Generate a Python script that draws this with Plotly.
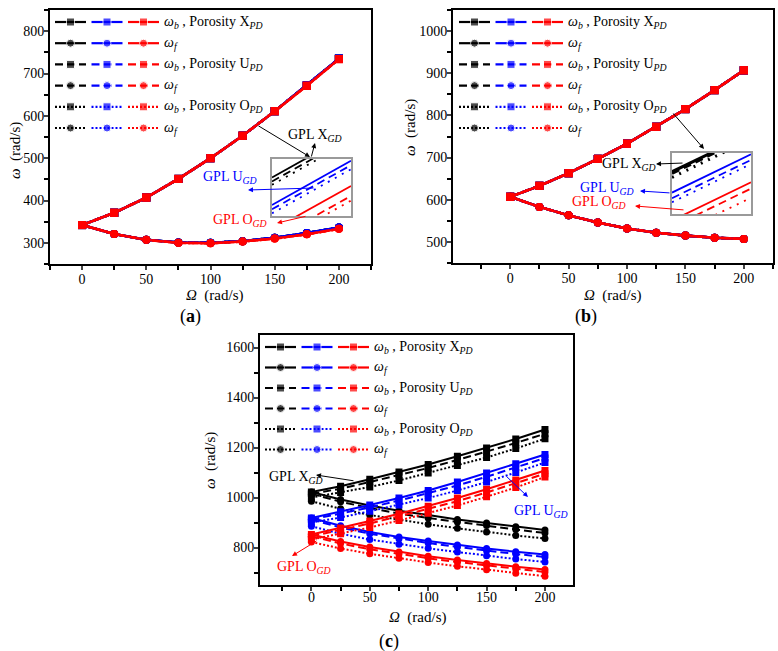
import plotly.graph_objects as go

W, H = 778, 651

omega = [0, 25, 50, 75, 100, 125, 150, 175, 200]

# (a) all nine configurations nearly coincide
a_wb_black = [342, 371, 407, 451, 500, 553, 611, 672, 735]
a_wb_blue = [342, 371, 407, 451, 500, 553, 611, 672, 735]
a_wb_red = [342, 371, 407, 451, 500, 553, 611, 671, 734]
a_wf_black = [342, 321, 307, 301, 300, 304, 312, 323, 336]
a_wf_blue = [342, 321, 307, 301, 300, 304, 312, 323, 336]
a_wf_red = [342, 321, 307, 300, 299, 303, 310, 320, 333]

# (b)
b_wb_black = [607, 633, 663, 697, 733, 773, 815, 860, 907]
b_wb_blue = [607, 633, 663, 697, 733, 773, 815, 860, 907]
b_wb_red = [607, 633, 663, 697, 733, 773, 815, 860, 907]
b_wf_black = [607, 583, 563, 546, 532, 522, 515, 510, 507]
b_wf_blue = [607, 583, 563, 546, 532, 522, 515, 510, 507]
b_wf_red = [607, 583, 563, 546, 532, 522, 515, 510, 507]

# (c) GPL X (black), U (blue), O (red); porosity X / U / O
c_wb_black_x = [1022, 1045, 1073, 1102, 1132, 1165, 1198, 1234, 1272]
c_wb_black_u = [1015, 1035, 1062, 1090, 1118, 1150, 1183, 1218, 1255]
c_wb_black_o = [1000, 1020, 1042, 1068, 1098, 1128, 1160, 1196, 1235]
c_wf_black_x = [1022, 992, 968, 947, 930, 912, 898, 883, 870]
c_wf_black_u = [1015, 983, 958, 936, 918, 902, 888, 872, 858]
c_wf_black_o = [985, 955, 930, 910, 893, 877, 862, 848, 836]
c_wb_blue_x = [918, 943, 970, 998, 1028, 1062, 1098, 1135, 1172]
c_wb_blue_u = [912, 935, 960, 988, 1017, 1048, 1083, 1120, 1158]
c_wb_blue_o = [900, 920, 945, 970, 998, 1028, 1062, 1100, 1140]
c_wf_blue_x = [918, 887, 862, 842, 826, 810, 796, 783, 772]
c_wf_blue_u = [912, 880, 855, 835, 818, 802, 787, 774, 762]
c_wf_blue_o = [885, 855, 832, 813, 797, 782, 767, 754, 742]
c_wb_red_x = [852, 878, 906, 935, 965, 998, 1033, 1070, 1108]
c_wb_red_u = [845, 870, 896, 925, 954, 985, 1020, 1057, 1095]
c_wb_red_o = [832, 855, 880, 908, 937, 968, 1003, 1040, 1082]
c_wf_red_x = [852, 824, 802, 782, 765, 750, 736, 723, 712]
c_wf_red_u = [845, 816, 793, 774, 757, 742, 728, 714, 702]
c_wf_red_o = [822, 796, 775, 757, 740, 725, 711, 697, 685]

# zoomed insets: each line as an offset (box units) with a common slope
ins_a_slope = 0.774
ins_a_black = [0.676, 0.606, 0.547]
ins_a_blue = [0.194, 0.118, 0.047]
ins_a_red = [-0.247, -0.422, -0.504]
ins_b_slope = 0.627
ins_b_black = [0.692, 0.665, 0.60]
ins_b_blue = [0.351, 0.259, 0.192]
ins_b_red = [-0.107, -0.211, -0.36]

COLORS = {"black": "#000000", "blue": "#0000ff", "red": "#ff0000"}
DASH = ["solid", "8px,4px", "2px,2px"]
INSET_DASH = ["solid", "8px,5px", "2px,6px"]
FONT = "Liberation Serif"

fig = go.Figure()


def px(x):
    return x / W


def py(y):
    return 1 - y / H


frames = {"": (50, 10, 371, 264), "2": (453, 10, 773, 263), "3": (260, 335, 573, 585)}
xranges = {"": [-25, 225], "2": [-49, 225], "3": [-44, 224]}
yranges = {"": [250, 850], "2": [450, 1050], "3": [650, 1650]}
ydticks = {"": (100, 50), "2": (100, 50), "3": (200, 100)}
standoff = {"": -3, "2": -3, "3": -6}

layout = dict(
    width=W, height=H, margin=dict(l=0, r=0, t=0, b=0),
    paper_bgcolor="white", plot_bgcolor="rgba(0,0,0,0)",
    showlegend=False, font=dict(family=FONT, size=14, color="black"),
)

over = {"": "6", "2": "7", "3": "8"}
for k, (x0, y0, x1, y1) in frames.items():
    common = dict(showgrid=False, zeroline=False, tickfont=dict(family=FONT, size=14))
    layout["xaxis" + k] = dict(
        common, domain=[px(x0), px(x1)], range=xranges[k], anchor="y" + k,
        showline=True, linewidth=2, linecolor="black", mirror=True,
        ticks="outside", ticklen=4, tickwidth=1.5, tick0=0, dtick=50,
        ticklabelstandoff=standoff[k],
        minor=dict(dtick=25, ticks="outside", ticklen=4, tickwidth=1.5, tickcolor="black"),
    )
    layout["yaxis" + k] = dict(
        common, domain=[py(y1), py(y0)], range=yranges[k], anchor="x" + k,
        showline=True, linewidth=2, linecolor="black", mirror=True,
        ticks="outside", ticklen=4, tickwidth=1.5, tick0=0, dtick=ydticks[k][0],
        ticklabelstandoff=-3,
        minor=dict(dtick=ydticks[k][1], ticks="outside", ticklen=4, tickwidth=1.5, tickcolor="black"),
    )
    o = over[k]
    layout["xaxis" + o] = dict(
        overlaying="x" + k, side="top", anchor="y" + k, range=xranges[k],
        showgrid=False, zeroline=False, showticklabels=False, showline=False,
        ticks="inside", ticklen=4, tickwidth=1.5, tick0=0, dtick=50,
        minor=dict(dtick=25, ticks="inside", ticklen=4, tickwidth=1.5, tickcolor="black"),
    )
    layout["yaxis" + o] = dict(
        overlaying="y" + k, side="right", anchor="x" + k, range=yranges[k],
        showgrid=False, zeroline=False, showticklabels=False, showline=False,
        ticks="inside", ticklen=4, tickwidth=1.5, tick0=0, dtick=ydticks[k][0],
        minor=dict(dtick=ydticks[k][1], ticks="inside", ticklen=4, tickwidth=1.5, tickcolor="black"),
    )

# inset boxes
insets = {"4": (272, 159, 351, 216), "5": (672, 153, 751, 214)}
for k, (x0, y0, x1, y1) in insets.items():
    box = dict(showgrid=False, zeroline=False, showticklabels=False, ticks="",
               showline=True, mirror=True, linecolor="#9a9a9a", linewidth=1.5, range=[0, 1])
    layout["xaxis" + k] = dict(box, domain=[px(x0), px(x1)], anchor="y" + k)
    layout["yaxis" + k] = dict(box, domain=[py(y1), py(y0)], anchor="x" + k)

# pixel-unit axes for the hand-drawn legends
layout["xaxis9"] = dict(domain=[0, 1], range=[0, W], visible=False, anchor="y9")
layout["yaxis9"] = dict(domain=[0, 1], range=[H, 0], visible=False, anchor="x9")

fig.update_layout(**layout)


def add_curves(k, wb, wf, width, msize):
    for color in ["black", "blue", "red"]:
        for i in range(3):
            for vals, sym in [(wb[color][i], "square"), (wf[color][i], "circle")]:
                fig.add_trace(go.Scatter(
                    x=omega, y=vals, mode="lines+markers", xaxis="x" + k, yaxis="y" + k,
                    line=dict(color=COLORS[color], width=width, dash=DASH[i]),
                    marker=dict(symbol=sym, size=msize, color=COLORS[color]),
                ))


add_curves("",
           {"black": [a_wb_black] * 3, "blue": [a_wb_blue] * 3, "red": [a_wb_red] * 3},
           {"black": [a_wf_black] * 3, "blue": [a_wf_blue] * 3, "red": [a_wf_red] * 3}, 2.5, 8)
add_curves("2",
           {"black": [b_wb_black] * 3, "blue": [b_wb_blue] * 3, "red": [b_wb_red] * 3},
           {"black": [b_wf_black] * 3, "blue": [b_wf_blue] * 3, "red": [b_wf_red] * 3}, 2.5, 8)
add_curves("3",
           {"black": [c_wb_black_x, c_wb_black_u, c_wb_black_o],
            "blue": [c_wb_blue_x, c_wb_blue_u, c_wb_blue_o],
            "red": [c_wb_red_x, c_wb_red_u, c_wb_red_o]},
           {"black": [c_wf_black_x, c_wf_black_u, c_wf_black_o],
            "blue": [c_wf_blue_x, c_wf_blue_u, c_wf_blue_o],
            "red": [c_wf_red_x, c_wf_red_u, c_wf_red_o]}, 2, 7)

# inset lines
for k, slope, groups, bw in [("4", ins_a_slope, [ins_a_black, ins_a_blue, ins_a_red], 1.8),
                             ("5", ins_b_slope, [ins_b_black, ins_b_blue, ins_b_red], 3)]:
    for color, offs in zip(["black", "blue", "red"], groups):
        for i, b0 in enumerate(offs):
            fig.add_trace(go.Scatter(
                x=[0, 1], y=[b0, b0 + slope], mode="lines", xaxis="x" + k, yaxis="y" + k,
                line=dict(color=COLORS[color], width=bw if color == "black" else 1.8,
                          dash=INSET_DASH[i]),
            ))

# legends
legend_text = [
    "<i>ω</i><sub><i>b</i></sub> , Porosity X<sub><i>PD</i></sub>",
    "<i>ω</i><sub><i>f</i></sub>",
    "<i>ω</i><sub><i>b</i></sub> , Porosity U<sub><i>PD</i></sub>",
    "<i>ω</i><sub><i>f</i></sub>",
    "<i>ω</i><sub><i>b</i></sub> , Porosity O<sub><i>PD</i></sub>",
    "<i>ω</i><sub><i>f</i></sub>",
]
legend_pos = [(55, 22, 21.2), (459, 22, 21.2), (265, 347, 20.5)]
for lx, ly, step in legend_pos:
    for r in range(6):
        yrow = ly + r * step
        for j, color in enumerate(["black", "blue", "red"]):
            sx = lx + j * 36.5
            fig.add_trace(go.Scatter(
                x=[sx, sx + 15.5, sx + 31], y=[yrow] * 3, mode="lines+markers",
                xaxis="x9", yaxis="y9",
                line=dict(color=COLORS[color], width=2.2, dash=DASH[r // 2]),
                marker=dict(symbol="square" if r % 2 == 0 else "circle",
                            size=[0, 8, 0], color=COLORS[color]),
            ))
        fig.add_annotation(x=px(lx + 107), y=py(yrow), xref="paper", yref="paper",
                           text=legend_text[r], showarrow=False, xanchor="left",
                           yanchor="middle", font=dict(size=14))


def label(x, y, text, color="black", size=14, angle=0):
    fig.add_annotation(x=px(x), y=py(y), xref="paper", yref="paper", text=text,
                       showarrow=False, font=dict(size=size, color=color), textangle=angle,
                       xanchor="center", yanchor="middle")


def arrow(tail, head, color="black"):
    fig.add_annotation(x=px(head[0]), y=py(head[1]), xref="paper", yref="paper", text="",
                       showarrow=True, ax=tail[0] - head[0], ay=tail[1] - head[1],
                       arrowhead=2, arrowsize=1, arrowwidth=1, arrowcolor=color)


# axis titles and captions
omega_y = "<i>ω</i>  (rad/s)"
omega_x = "<i>Ω</i>  (rad/s)"
label(15, 151, omega_y, size=15, angle=-90)
label(411, 127, omega_y, size=15, angle=-90)
label(210, 461, omega_y, size=15, angle=-90)
label(215, 295, omega_x, size=15)
label(613, 295, omega_x, size=15)
label(418, 617, omega_x, size=15)
label(190, 316, "(<b>a</b>)", size=18)
label(586, 316, "(<b>b</b>)", size=18)
label(389, 641, "(<b>c</b>)", size=18)

# GPL annotations
gx = "GPL X<sub><i>GD</i></sub>"
gu = "GPL U<sub><i>GD</i></sub>"
go_ = "GPL O<sub><i>GD</i></sub>"
label(315, 135, gx)
arrow((257, 125), (310, 157))
arrow((311, 158), (315, 143))
label(230, 177, gu, "#0000ff")
arrow((315, 188), (248, 190), "#0000ff")
label(240, 220, go_, "#ff0000")
arrow((307, 216), (277, 223), "#ff0000")

label(629, 164, gx)
arrow((672, 112), (704, 149))
arrow((684, 163), (656, 164))
label(607, 189, gu, "#0000ff")
arrow((671, 193), (640, 191), "#0000ff")
label(599, 203, go_, "#ff0000")
arrow((685, 210), (635, 206), "#ff0000")

label(296, 477, gx)
arrow((355, 481), (316, 475))
label(541, 511, gu, "#0000ff")
arrow((505, 475), (528, 497), "#0000ff")
label(304, 567, go_, "#ff0000")
arrow((318, 540), (292, 556), "#ff0000")

fig.write_html("out.html", config={"displayModeBar": False},
               post_script="document.body.style.margin='0';")
